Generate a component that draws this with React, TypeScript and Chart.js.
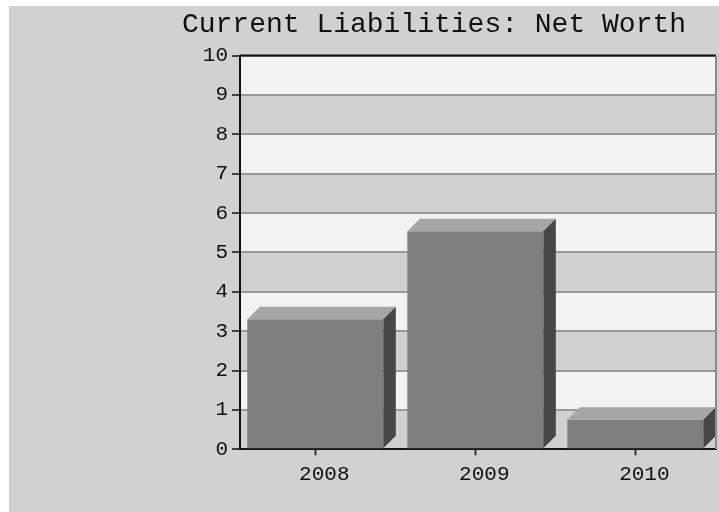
import React, { useEffect, useRef } from "react";
import { Chart, registerables } from "chart.js";

Chart.register(...registerables);

const titleText = "Current Liabilities: Net Worth";
const years = ["2008", "2009", "2010"];
const values = [3.3, 5.54, 0.75];
const yMin = 0;
const yMax = 10;
const yStep = 1;

const FONT = "'Liberation Mono', 'DejaVu Sans Mono', monospace";

const threeD = {
  id: "threeD",
  beforeDraw(chart: any) {
    const { ctx, chartArea: a, scales } = chart;
    ctx.save();
    ctx.fillStyle = "#d1d1d1";
    ctx.fillRect(0, 0, chart.width, chart.height);
    const y = scales.y;
    for (let v = yMin; v < yMax; v += yStep) {
      const top = y.getPixelForValue(v + yStep);
      const bot = y.getPixelForValue(v);
      ctx.fillStyle = v % 2 === 1 ? "#f2f2f2" : "#d0d0d0";
      ctx.fillRect(a.left, top, a.right - a.left, bot - top);
    }
    ctx.restore();
  },
  afterDatasetsDraw(chart: any) {
    const { ctx } = chart;
    const d = 12.5;
    const meta = chart.getDatasetMeta(0);
    ctx.save();
    meta.data.forEach((el: any) => {
      const p = el.getProps(["x", "y", "base", "width"], true);
      const L = p.x - p.width / 2;
      const R = p.x + p.width / 2;
      ctx.fillStyle = "#a6a6a6";
      ctx.beginPath();
      ctx.moveTo(L, p.y);
      ctx.lineTo(L + d, p.y - d);
      ctx.lineTo(R + d, p.y - d);
      ctx.lineTo(R, p.y);
      ctx.closePath();
      ctx.fill();
      ctx.fillStyle = "#464646";
      ctx.beginPath();
      ctx.moveTo(R, p.y);
      ctx.lineTo(R + d, p.y - d);
      ctx.lineTo(R + d, p.base - d);
      ctx.lineTo(R, p.base);
      ctx.closePath();
      ctx.fill();
    });
    ctx.restore();
  },
  afterDraw(chart: any) {
    const { ctx, chartArea: a } = chart;
    ctx.save();
    ctx.strokeStyle = "#111";
    ctx.lineWidth = 2;
    ctx.beginPath();
    ctx.moveTo(a.left, a.top);
    ctx.lineTo(a.right, a.top);
    ctx.stroke();
    ctx.strokeStyle = "#8a8a8a";
    ctx.beginPath();
    ctx.moveTo(a.right, a.top);
    ctx.lineTo(a.right, a.bottom);
    ctx.stroke();
    ctx.fillStyle = "#111";
    ctx.font = `28px ${FONT}`;
    ctx.textAlign = "center";
    ctx.textBaseline = "middle";
    ctx.fillText(titleText, 425, 19);
    ctx.restore();
  },
};

export default function App() {
  const ref = useRef<HTMLCanvasElement>(null);
  useEffect(() => {
    if (!ref.current) return;
    const chart = new Chart(ref.current, {
      type: "bar",
      data: {
        datasets: [
          {
            data: values.map((v, i) => ({ x: i, y: v })),
            backgroundColor: "#7f7f7f",
            borderWidth: 0,
            barPercentage: 0.85,
            categoryPercentage: 1,
          },
        ],
      },
      options: {
        animation: false,
        responsive: false,
        devicePixelRatio: 1,
        layout: { padding: { top: 49.5, left: 0, right: 3, bottom: 0 } },
        plugins: { legend: { display: false }, title: { display: false }, tooltip: { enabled: false } },
        scales: {
          x: {
            type: "linear",
            offset: false,
            min: -0.4706,
            max: 2.504,
            afterBuildTicks: (s: any) => {
              s.ticks = years.map((_, i) => ({ value: i }));
            },
            afterFit: (s: any) => {
              s.height = 62.7;
            },
            grid: { offset: false, drawOnChartArea: false, drawTicks: true, tickLength: 6, tickColor: "#333", tickWidth: 2 },
            border: { display: true, color: "#111", width: 2 },
            ticks: {
              autoSkip: false,
              maxRotation: 0,
              padding: 7,
              labelOffset: 9,
              color: "#111",
              font: { family: FONT, size: 21 },
              callback: (v: any) => years[v] ?? "",
            },
          },
          y: {
            min: yMin,
            max: yMax,
            afterFit: (s: any) => {
              s.width = 231;
            },
            grid: { color: "#9a9a9a", lineWidth: 2, tickColor: "#111", tickWidth: 1.5, tickLength: 8 },
            border: { display: true, color: "#111", width: 2 },
            ticks: {
              stepSize: yStep,
              padding: 4,
              color: "#111",
              font: { family: FONT, size: 21 },
            },
          },
        },
      },
      plugins: [threeD],
    } as any);
    return () => chart.destroy();
  }, []);
  return (
    <div style={{ position: "absolute", left: 9, top: 6, width: 710, height: 506 }}>
      <canvas ref={ref} width={710} height={506} style={{ display: "block" }} />
    </div>
  );
}
